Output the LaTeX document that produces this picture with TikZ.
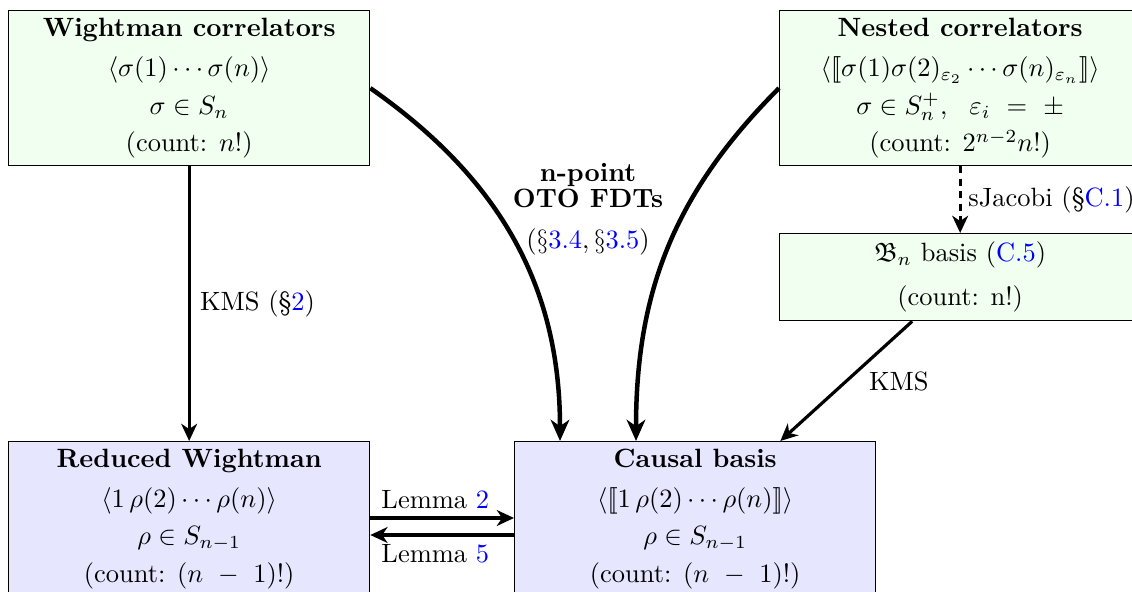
\documentclass[tikz,border=0pt]{standalone}
\usepackage{amsmath,amssymb}
\usetikzlibrary{arrows.meta,calc}
\definecolor{boxgreen}{HTML}{F0FFF0}
\definecolor{boxblue}{HTML}{E6E6FF}
\def\pxu{0.378pt}
\begin{document}
\begin{tikzpicture}[x=0.378pt,y=-0.378pt,
  box/.style={draw=black, line width=0.5pt, anchor=north west, minimum width=361*\pxu,
    inner sep=2pt, align=center},
  gbox/.style={box, fill=boxgreen},
  bbox/.style={box, fill=boxblue},
  conn/.style={line width=1.2pt, -{Stealth[length=6.5pt, width=6pt, inset=2pt]}},
  curv/.style={line width=1.7pt, -{Stealth[length=8pt, width=7pt, inset=2.4pt]}},
  lab/.style={inner sep=2pt}]
\useasboundingbox (0,0) rectangle (1132,592);

\node[gbox, minimum height=155*\pxu] (W) at (8,10)
  {\textbf{Wightman correlators}\\[3.4pt]
   $\langle\sigma(1)\cdots\sigma(n)\rangle$\\[2.2pt]
   $\sigma\in S_n$\\[2.2pt]
   (count: $n!$)};

\node[gbox, minimum height=155*\pxu] (N) at (779,10)
  {\textbf{Nested correlators}\\[3.4pt]
   $\langle[\![\sigma(1)\sigma(2)_{\varepsilon_2}\cdots\sigma(n)_{\varepsilon_n}]\!]\rangle$\\[2.2pt]
   $\sigma\in S_n^{+},\ \ \varepsilon_i \ = \ \pm$\\[2.2pt]
   (count: $2^{n-2}n!$)};

\node[gbox, minimum height=87*\pxu] (B) at (779,233)
  {$\mathfrak{B}_n$ basis (\textcolor{blue}{C.5})\\[4.6pt]
   (count: n!)};

\node[bbox, minimum height=155*\pxu] (R) at (8,441)
  {\textbf{Reduced Wightman}\\[3pt]
   $\langle 1\,\rho(2)\cdots\rho(n)\rangle$\\[2.2pt]
   $\rho\in S_{n-1}$\\[2.2pt]
   (count: $(n\ -\ 1)!$)};

\node[bbox, minimum height=155*\pxu] (C) at (514,441)
  {\textbf{Causal basis}\\[3pt]
   $\langle[\![1\,\rho(2)\cdots\rho(n)]\!]\rangle$\\[2.2pt]
   $\rho\in S_{n-1}$\\[2.2pt]
   (count: $(n\ -\ 1)!$)};

\coordinate (c1) at ($(C.north west)+(46,0)$);
\coordinate (c2) at ($(C.north west)+(122,0)$);
\coordinate (bs) at ($(B.south)+(-48,0)$);
\coordinate (ce) at ($(C.north east)+(-96,0)$);
\coordinate (l2a) at ($(R.north east)+(0,77)$);
\coordinate (l2b) at ($(C.north west)+(0,77)$);
\coordinate (l5a) at ($(C.north west)+(0,94)$);
\coordinate (l5b) at ($(R.north east)+(0,94)$);

\draw[conn] (W.south) -- node[lab, right, xshift=1.5pt] {KMS (\S\textcolor{blue}{2})} (R.north);
\draw[curv] (W.east) to[out=-35, in=90] (c1);
\draw[curv] (N.west) to[out=-135, in=90] (c2);
\node[align=center] (fdt) at (588,209)
  {\textbf{n-point}\\[-2pt] \textbf{OTO FDTs}\\[3.5pt] $(\S\textcolor{blue}{3.4},\S\textcolor{blue}{3.5})$};
\draw[conn, dash pattern=on 2.7pt off 2pt] (N.south) -- node[lab, right, xshift=0.5pt] {sJacobi (\S\textcolor{blue}{C.1})} (B.north);
\draw[conn] (bs) -- node[lab, midway, anchor=west, xshift=6pt] {KMS} (ce);
\draw[conn] (l2a) -- node[lab, above, inner sep=3pt, xshift=-2.6pt] {Lemma \textcolor{blue}{2}} (l2b);
\draw[conn] (l5a) -- node[lab, below, inner sep=3pt, xshift=-2.6pt] {Lemma \textcolor{blue}{5}} (l5b);
\end{tikzpicture}
\end{document}
